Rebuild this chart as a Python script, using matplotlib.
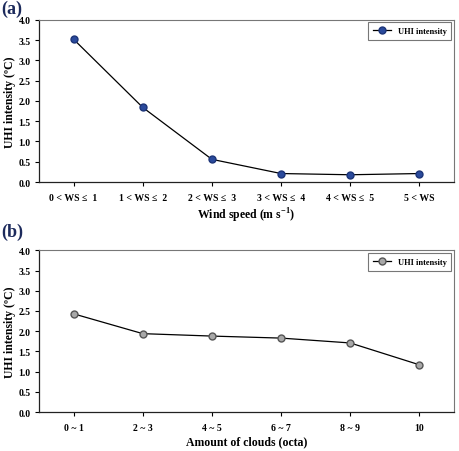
import matplotlib
matplotlib.use("Agg")
import matplotlib.pyplot as plt

plt.rcParams["font.family"] = ["Liberation Serif", "DejaVu Serif"]
plt.rcParams["font.weight"] = "bold"
plt.rcParams["axes.labelweight"] = "bold"
plt.rcParams["mathtext.fontset"] = "custom"
plt.rcParams["mathtext.rm"] = "Liberation Serif:bold"
plt.rcParams["mathtext.bf"] = "Liberation Serif:bold"

# panel (a): wind speed classes
ws_labels = ["0 < WS \u2264  1", "1 < WS \u2264  2", "2 < WS \u2264  3",
             "3 < WS \u2264  4", "4 < WS \u2264  5", "5 < WS"]
ws_uhi = [3.52, 1.84, 0.56, 0.21, 0.18, 0.21]

# panel (b): cloud amount
cloud_labels = ["0 ~ 1", "2 ~ 3", "4 ~ 5", "6 ~ 7", "8 ~ 9", "10"]
cloud_uhi = [2.43, 1.94, 1.88, 1.83, 1.71, 1.17]

yticks = [0.0, 0.5, 1.0, 1.5, 2.0, 2.5, 3.0, 3.5, 4.0]

fig = plt.figure(figsize=(4.59, 4.52), dpi=100)
ax1 = fig.add_axes([0.085, 0.595, 0.904, 0.359])
ax2 = fig.add_axes([0.085, 0.086, 0.904, 0.358])


def style(ax, labels, xlabel):
    ax.set_xlim(-0.5, 5.5)
    ax.set_ylim(0, 4.0)
    ax.set_yticks(yticks)
    ax.set_yticklabels(["%.1f" % v for v in yticks])
    ax.set_xticks(range(len(labels)))
    ax.set_xticklabels(labels)
    ax.tick_params(labelsize=7, length=3, width=0.8, direction="out", pad=3)
    ax.tick_params(axis="x", pad=5)
    for s in ["top", "right"]:
        ax.spines[s].set_color("#777777")
        ax.spines[s].set_linewidth(0.8)
    for s in ["left", "bottom"]:
        ax.spines[s].set_color("#222222")
        ax.spines[s].set_linewidth(0.9)
    ax.set_ylabel("UHI intensity (\u00baC)", fontsize=8.5, labelpad=2)
    ax.set_xlabel(xlabel, fontsize=8.5, labelpad=2.5)
    leg = ax.legend(loc="upper right", fontsize=6, frameon=True, fancybox=False,
                    handlelength=2.2, borderaxespad=0.3, borderpad=0.6)
    leg.get_frame().set_edgecolor("#555555")
    leg.get_frame().set_linewidth(0.8)


ax1.plot(range(len(ws_labels)), ws_uhi, color="black", lw=0.9, marker="o",
         ms=5, mfc="#2a4a9c", mec="#1c3478", label="UHI intensity")
style(ax1, ws_labels, "Wind speed (m s$^{-1}$)")

ax2.plot(range(len(cloud_labels)), cloud_uhi, color="black", lw=0.9, marker="o",
         ms=5, mfc="#a8a8a8", mec="#555555", label="UHI intensity")
style(ax2, cloud_labels, "Amount of clouds (octa)")

fig.text(0.002, 0.998, "(a)", fontsize=13, color="#1c2a5c", va="top", ha="left")
fig.text(0.002, 0.505, "(b)", fontsize=13, color="#1c2a5c", va="top", ha="left")

fig.savefig("out.png", dpi=100)
